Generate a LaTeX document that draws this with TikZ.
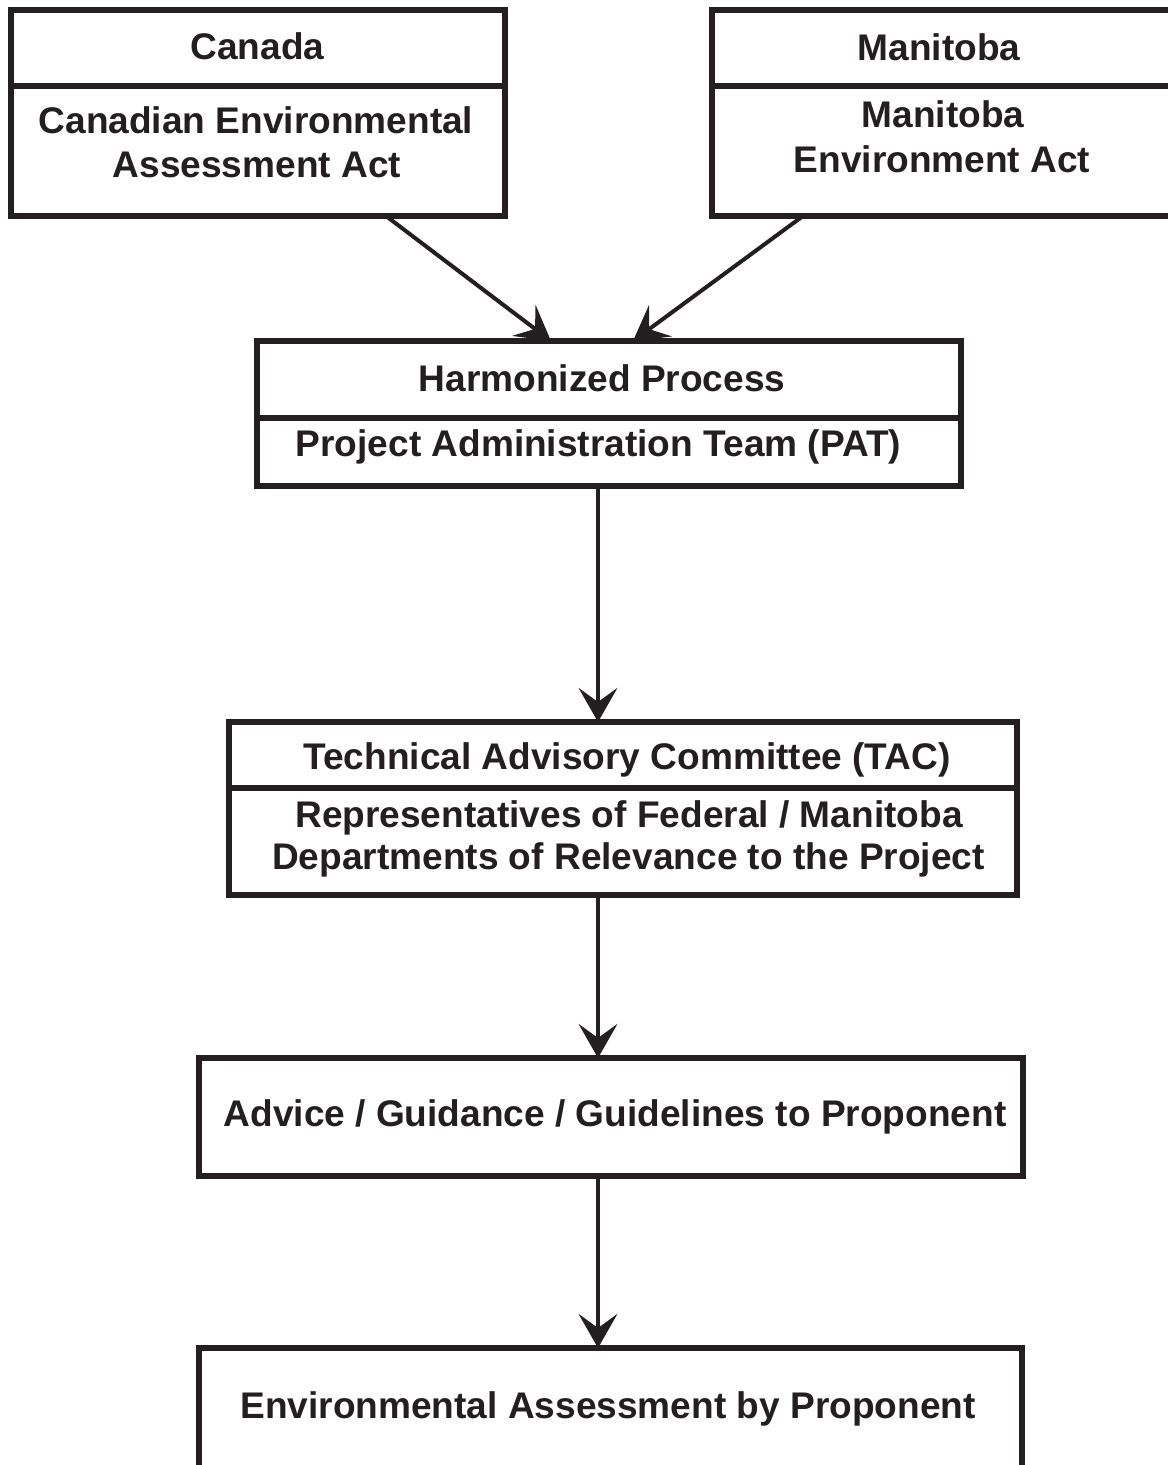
\documentclass[tikz,border=0pt]{standalone}
\usepackage{fontspec}
\setmainfont{Liberation Sans}
\usetikzlibrary{arrows.meta,fit}
\definecolor{ink}{RGB}{35,31,32}

\tikzset{
  box/.style={draw=ink, line width=4pt, inner sep=0pt, outer sep=0pt},
  txt/.style={anchor=base, inner sep=0pt, text=ink, font=\fontsize{27.8}{33}\selectfont\bfseries},
  flow/.style={draw=ink, line width=3pt, -{Stealth[length=25.5pt, width=29pt, inset=10.5pt]}},
}

\begin{document}
\begin{tikzpicture}[x=0.75pt,y=0.75pt,yscale=-1,xscale=1]
%set diagram left start at 0, and has height of 1465
\useasboundingbox (0,0) rectangle (1168,1465);
\clip (0,0) rectangle (1168,1465);

% Boxes
\node (canhead) [box, fit={(11,10) (505,86)}] {};
\node (canbody) [box, fit={(11,86) (505,216)}] {};
\node (manhead) [box, fit={(712,10) (1185,86)}] {};
\node (manbody) [box, fit={(712,86) (1185,216)}] {};
\node (hphead) [box, fit={(257,341) (961,418)}] {};
\node (hpbody) [box, fit={(257,418) (961,486)}] {};
\node (tachead) [box, fit={(229,722) (1017,788)}] {};
\node (tacbody) [box, fit={(229,788) (1017,895)}] {};
\node (advice) [box, fit={(199,1058) (1023,1176)}] {};
\node (eabox) [box, fit={(199,1348) (1022,1500)}] {};

% Text Node
\node (cantitle) [txt] at (257.5,59) {Canada};
\node (canact1) [txt] at (256,133) {Canadian Environmental};
\node (canact2) [txt] at (257,177) {Assessment Act};
% Text Node
\node (mantitle) [txt] at (939,60) {Manitoba};
\node (manact1) [txt] at (943,127) {Manitoba};
\node (manact2) [txt] at (942,172) {Environment Act};
% Text Node
\node (hptitle) [txt] at (602,391) {Harmonized Process};
\node (pat) [txt] at (598.5,456) {Project Administration Team (PAT)};
% Text Node
\node (tactitle) [txt] at (627,769) {Technical Advisory Committee (TAC)};
\node (reps1) [txt] at (629,827) {Representatives of Federal / Manitoba};
\node (reps2) [txt] at (628.5,869) {Departments of Relevance to the Project};
% Text Node
\node (advtext) [txt] at (615,1126) {Advice / Guidance / Guidelines to Proponent};
\node (eatext) [txt] at (608,1418) {Environmental Assessment by Proponent};

% Arrows
\coordinate (spine) at (598,0);
\coordinate (canfoot) at (386,0);
\coordinate (manfoot) at (803,0);
\coordinate (canin) at (551,0);
\coordinate (manin) at (633,0);
\draw[flow] (canbody.south -| canfoot) -- (hphead.north -| canin);
\draw[flow] (manbody.south -| manfoot) -- (hphead.north -| manin);
\draw[flow] (hpbody.south -| spine) -- (tachead.north -| spine);
\draw[flow] (tacbody.south -| spine) -- (advice.north -| spine);
\draw[flow] (advice.south -| spine) -- (eabox.north -| spine);

\end{tikzpicture}
\end{document}
